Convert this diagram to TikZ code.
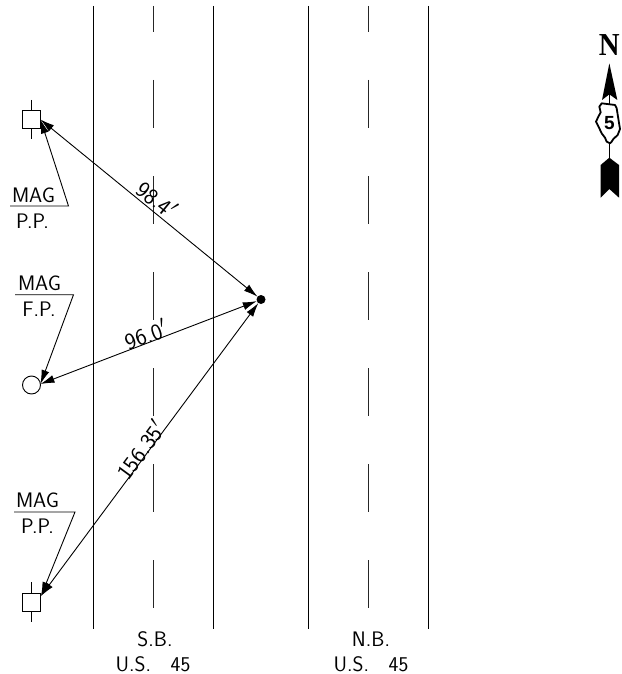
\documentclass[tikz,border=0pt]{standalone}
\usepackage{fontspec}
\usetikzlibrary{arrows.meta}
\newfontfamily\nfont{Liberation Serif}
\newfontfamily\fivefont{Liberation Sans}
\begin{document}
\begin{tikzpicture}[x=1pt,y=-1pt,
  road/.style={line width=1.25pt,black},
  dashline/.style={line width=.95pt,black!85},
  thin line/.style={line width=.9pt,black},
  dim/.style={line width=.9pt,{Latex[length=14pt,width=8pt]}-{Latex[length=14pt,width=8pt]}},
  lead/.style={line width=.9pt,-{Latex[length=14pt,width=8pt]}},
  lab/.style={font=\sffamily\fontsize{21}{21}\selectfont\addfontfeature{LetterSpace=6},inner sep=0pt,text=black},
  dotlab/.style={font=\sffamily\fontsize{21}{21}\selectfont\addfontfeature{LetterSpace=12},inner sep=0pt,text=black},
  dimlab/.style={font=\sffamily\fontsize{23}{23}\selectfont\addfontfeature{LetterSpace=11},inner sep=0pt,text=black},
  mark box/.style={draw,line width=.9pt,fill=white,minimum size=18pt,inner sep=0pt,outer sep=0pt},
  mark round/.style={circle,draw,line width=.9pt,fill=white,minimum size=18pt,inner sep=0pt,outer sep=0pt},
  hub/.style={circle,fill=black,minimum size=9pt,inner sep=0pt,outer sep=0pt}]
\useasboundingbox (0,0) rectangle (621,674);
\fill[white] (0,0) rectangle (621,674);
% road edges
\foreach \x in {93.5,213.5,308.5,428.5} \draw[road] (\x,6) -- (\x,629);
% lane dashes
\foreach \x in {153.5,368.5} {
  \foreach \a/\b in {6/32,80/127.5,176/223.5,272/320,368/415.5,464/512,560/608}
    \draw[dashline] (\x,\a) -- (\x,\b);
}
% stubs
\draw[thin line] (31.5,100) -- (31.5,139);
\draw[thin line] (31.5,582) -- (31.5,622);
% markers
\node[mark box] (sq1) at (31.5,119.5) {};
\node[mark box] (sq3) at (31.5,602) {};
\node[mark round] (cir) at (31.5,385) {};
\node[hub] (pt) at (261,299.5) {};
\coordinate (t3) at (41,596);
\coordinate (c3) at (40.5,384);
% leaders
\coordinate (a1) at (10,206); \coordinate (b1) at (68.5,206);
\coordinate (a2) at (15,294.7); \coordinate (b2) at (73.5,294.7);
\coordinate (a3) at (14,512); \coordinate (b3) at (75,512);
\draw[lead] (a1) -- (b1) -- (sq1.east);
\draw[lead] (a2) -- (b2) -- (c3);
\draw[lead] (a3) -- (b3) -- (t3);
% dimensions
\draw[dim] (sq1.east) -- (pt);
\draw[dim] (c3) -- (pt);
\draw[dim] (t3) -- (pt);
% labels
\node[lab] (m1) at (33.5,195) {MAG};
\node[dotlab] (p1) at (32.5,221) {P.P.};
\node[lab] (m2) at (39.5,283) {MAG};
\node[dotlab] (p2) at (39,309) {F.P.};
\node[lab] (m3) at (37.5,500) {MAG};
\node[dotlab] (p3) at (37.5,526) {P.P.};
\node[dimlab,rotate=-39] (d1) at (157,199) {98.4$'$};
\node[dimlab,rotate=20] (d2) at (145.5,334.5) {96.0$'$};
\node[dimlab,rotate=53.7] (d3) at (140.5,450) {156.35$'$};
\node[dotlab] (s1) at (155,639) {S.B.};
\node[lab] (s2) at (153,664) {U.S.\ \ \ 45};
\node[dotlab] (n1) at (371,639) {N.B.};
\node[lab] (n2) at (371,664) {U.S.\ \ \ 45};
% north arrow
\node[font=\nfont\bfseries\fontsize{32}{32}\selectfont,inner sep=0pt,xscale=.9] (north) at (609.3,45.5) {N};
\begin{scope}[shift={(570,25)},x=.33333pt,y=-.33333pt]
  \draw[line width=1.3pt] (118,200) -- (118,400);
  \fill (118,115) -- (142,225) -- (118,208) -- (96,225) -- cycle;
  \fill (118,398) -- (147,420) -- (147,518) -- (118,492) -- (92,518) -- (92,420) -- cycle;
  \draw[line width=1.8pt,fill=white,line join=round] (95,235) -- (135,240) -- (140,250) -- (148,300) -- (150,312) -- (143,330) -- (130,342) -- (125,350) -- (120,355) -- (110,350) -- (105,338) -- (95,325) -- (88,310) -- (78,290) -- (85,275) -- (92,262) -- (88,245) -- cycle;
  \node[font=\fivefont\bfseries\fontsize{19}{19}\selectfont,inner sep=0pt] (five) at (118,295) {5};
\end{scope}
\end{tikzpicture}
\end{document}
